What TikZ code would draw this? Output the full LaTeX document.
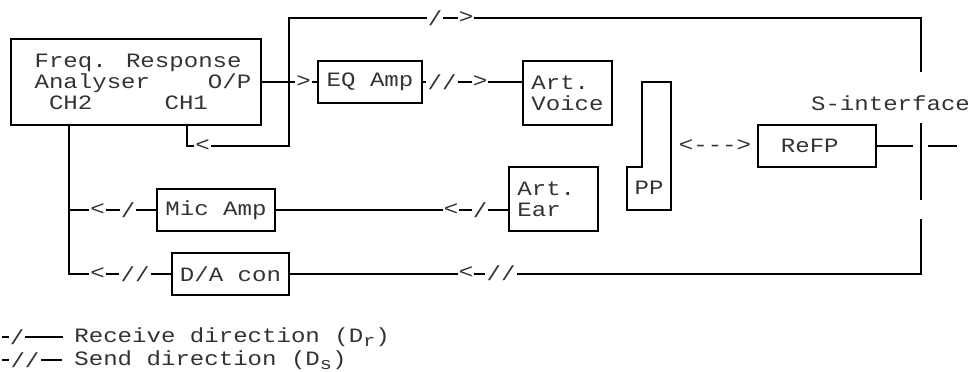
\documentclass[tikz,border=0pt]{standalone}
\usepackage{fontspec}
\newfontfamily\asciifont[FakeStretch=1.18]{Liberation Mono}

\begin{document}
\begin{tikzpicture}[x=0.5pt, y=-0.5pt,
  every node/.style={font=\asciifont\fontsize{10.2}{10.5}\selectfont, text=black!80},
  block/.style={draw=black, line width=0.9pt, inner sep=0pt, align=left},
  tag/.style={fill=white, inner sep=0.6pt},
  wire/.style={line width=0.9pt}]
\useasboundingbox (0,0) rectangle (972,371);

% Blocks
\node[block, minimum width=125pt, minimum height=43pt] (fra) at (135.7,82)
  {\hphantom{x}Freq. Response\\\hphantom{x}Analyser~~~~O/P\\\hphantom{x}~CH2~~~~~CH1};
\node[block, minimum width=52pt, minimum height=21pt] (eq) at (370,82) {EQ~Amp};
\node[block, minimum width=44.5pt, minimum height=32pt] (voice) at (567.5,93) {Art.\\Voice};
\node[block, minimum width=59pt, minimum height=21pt] (mic) at (216,210) {Mic~Amp};
\node[block, minimum width=44.5pt, minimum height=32pt] (ear) at (553.5,199) {Art.\hphantom{x}\\Ear};
\node[block, minimum width=58.5pt, minimum height=21pt] (dac) at (230.5,274) {D/A~con};
\node[block, minimum width=59pt, minimum height=21pt] (refp) at (817,146) {\hphantom{x}ReFP\hphantom{xx}};

% PP
\draw[wire] (642,82) -- (671,82) -- (671,210) -- (627,210) -- (627,167) -- (642,167) -- cycle;
\node (pp) at (649,188) {PP};
\node (link) at (715,146) {<--->};
\node (sif) at (890.5,103) {S-interface};

% Corners
\coordinate (jn) at (289,146);
\coordinate (jt) at (289,18);
\coordinate (st) at (921,18);
\coordinate (sa) at (921,72);
\coordinate (sb) at (921,123);
\coordinate (sc) at (921,200);
\coordinate (sd) at (921,219);
\coordinate (ra) at (913,146);
\coordinate (rb) at (928,146);
\coordinate (rc) at (957,146);
\coordinate (bus) at (69,210);

% Send side
\draw[wire] (fra.east) -- (eq.west);
\draw[wire] (eq.east) -- (eq.east -| voice.west);
\draw[wire] (187,0 |- fra.south) |- (jn) -- (jt) -- (st) -- (sa);
\node[tag] (s1) at (303.5,82) {>};
\node[tag] (s2) at (442,82) {//};
\node[tag] (s3) at (480,82) {>};
\node[tag] (s4) at (202.5,146) {<};
\node[tag] (s5) at (435,18) {/};
\node[tag] (s6) at (466,18) {>};

% S-interface
\draw[wire] (sb) -- (sc);
\draw[wire] (sd) |- (dac.east);
\draw[wire] (refp.east) -- (ra);
\draw[wire] (rb) -- (rc);

% Receive side
\draw[wire] (mic.east -| ear.west) -- (mic.east);
\draw[wire] (mic.west) -- (bus);
\draw[wire] (dac.west) -| (69,0 |- fra.south);
\node[tag] (r1) at (451,210) {<};
\node[tag] (r2) at (480,210) {/};
\node[tag] (r3) at (97.5,210) {<};
\node[tag] (r4) at (128,210) {/};
\node[tag] (r5) at (466,273) {<};
\node[tag] (r6) at (501,273) {//};
\node[tag] (r7) at (97.5,274) {<};
\node[tag] (r8) at (135,274) {//};

% Legend
\draw[wire] (2,337) coordinate (la) -- (63,337) coordinate (lb);
\node[tag] (l1) at (17,337) {/};
\node[anchor=west, inner sep=0pt] (lr) at (74,337) {Receive direction (D\raisebox{-2pt}{\fontsize{8.5}{8.5}\selectfont r})};
\draw[wire] (2,360) coordinate (lc) -- (62,360) coordinate (ld);
\node[tag] (l2) at (25,360) {//};
\node[anchor=west, inner sep=0pt] (ls) at (74,360) {Send direction (D\raisebox{-2pt}{\fontsize{8.5}{8.5}\selectfont s})};
\end{tikzpicture}
\end{document}
